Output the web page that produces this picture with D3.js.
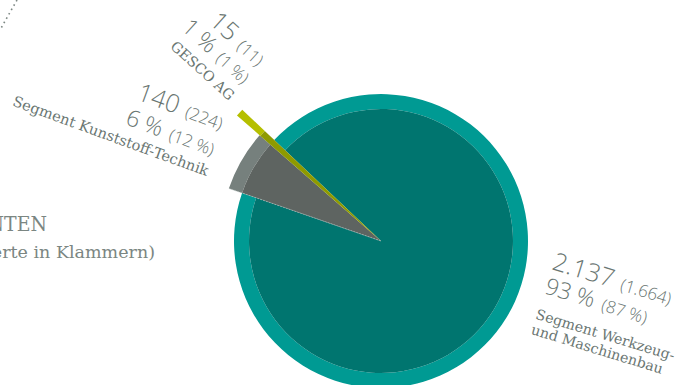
<!DOCTYPE html>
<html><head><meta charset="utf-8">
<script src="https://cdn.jsdelivr.net/npm/d3@7"></script>
<style>html,body{margin:0;padding:0;background:#fff;overflow:hidden}</style>
</head><body>
<svg id="c" width="679" height="385"></svg>
<script>
const categories = ["Segment Werkzeug- und Maschinenbau", "Segment Kunststoff-Technik", "GESCO AG"];
const labelLines = [["Segment Werkzeug-", "und Maschinenbau"], ["Segment Kunststoff-Technik"], ["GESCO AG"]];
const values = [2137, 140, 15];
const prevValues = [1664, 224, 11];
const valueLabels = ["2.137", "140", "15"];
const prevValueLabels = ["(1.664)", "(224)", "(11)"];
const shares = ["93 %", "6 %", "1 %"];
const prevShares = ["(87 %)", "(12 %)", "(1 %)"];
const titleLines = ["UMSATZ NACH SEGMENTEN", "(Vorjahreswerte in Klammern)"];

const darkColors = ["#00756f", "#5e6461", "#8e9a00"];
const lightColors = ["#009a93", "#76807d", "#b5bf00"];
const innerR = [132, 147, 160];
const outerR = [147, 161, 191];

const svg = d3.select("#c");
const cx = 381, cy = 241;
const start = -0.813;
const pie = d3.pie().sort(null).value(d => d).startAngle(start).endAngle(start + 2 * Math.PI);
const arcs = pie(values);
const g = svg.append("g").attr("transform", `translate(${cx},${cy})`);

arcs.forEach((a, i) => {
  g.append("path").attr("d", d3.arc().innerRadius(innerR[i]).outerRadius(outerR[i])(a)).attr("fill", lightColors[i]);
  g.append("path").attr("d", d3.arc().innerRadius(0).outerRadius(innerR[i])(a)).attr("fill", darkColors[i]);
});
const sepA = arcs[0].endAngle;
g.append("line").attr("x1", 0).attr("y1", 0)
  .attr("x2", Math.sin(sepA) * outerR[1]).attr("y2", -Math.cos(sepA) * outerR[1])
  .attr("stroke", "#b9c2bf").attr("stroke-width", 0.6).attr("stroke-dasharray", "2,1");

const txtCol = "#6a7672";
const numFont = "'Open Sans', 'DejaVu Sans', sans-serif";
const serif = "'DejaVu Serif', serif";

const layouts = [
  {x: 551, y: 269, r: 17, anchor: "start", ys: [0, 25, 52, 68], dx: [0, 0, -1, -1], fs: 14.2},
  {x: 220, y: 130, r: 20, anchor: "end", ys: [0, 27, 48], dx: [0, 1, 3], fs: 14.6},
  {x: 257, y: 67, r: 42, anchor: "end", ys: [0, 23, 44], dx: [0, 1, 2], fs: 14.2}
];

layouts.forEach((L, i) => {
  const lg = svg.append("g").attr("transform", `translate(${L.x},${L.y}) rotate(${L.r})`)
    .attr("fill", txtCol).attr("text-anchor", L.anchor);
  const t1 = lg.append("text").attr("x", L.dx[0]).attr("y", L.ys[0]);
  t1.append("tspan").attr("font-family", numFont).attr("font-weight", 300).attr("font-size", 25).text(valueLabels[i]);
  t1.append("tspan").attr("font-family", numFont).attr("font-weight", 300).attr("font-size", 17).attr("dx", 4).text(" " + prevValueLabels[i]);
  const t2 = lg.append("text").attr("x", L.dx[1]).attr("y", L.ys[1]);
  t2.append("tspan").attr("font-family", numFont).attr("font-weight", 300).attr("font-size", 23).text(shares[i]);
  t2.append("tspan").attr("font-family", numFont).attr("font-weight", 300).attr("font-size", 17).attr("dx", 4).text(" " + prevShares[i]);
  labelLines[i].forEach((ln, k) => {
    lg.append("text").attr("x", L.dx[2 + k]).attr("y", L.ys[2 + k])
      .attr("font-family", serif).attr("font-size", L.fs).text(ln);
  });
});

svg.append("text").attr("x", 47).attr("y", 231).attr("text-anchor", "end")
  .attr("font-family", "'DejaVu Serif Condensed', 'DejaVu Serif', serif").attr("font-stretch", "condensed")
  .attr("font-size", 21).attr("fill", "#7b8682").text(titleLines[0]);
svg.append("text").attr("x", 155).attr("y", 258).attr("text-anchor", "end")
  .attr("font-family", serif).attr("font-size", 17.5).attr("fill", "#7b8682").text(titleLines[1]);

svg.append("line").attr("x1", 17).attr("y1", 0).attr("x2", 0).attr("y2", 30)
  .attr("stroke", "#7b8682").attr("stroke-width", 1.6).attr("stroke-dasharray", "1.6,3.4");
</script>
</body></html>
